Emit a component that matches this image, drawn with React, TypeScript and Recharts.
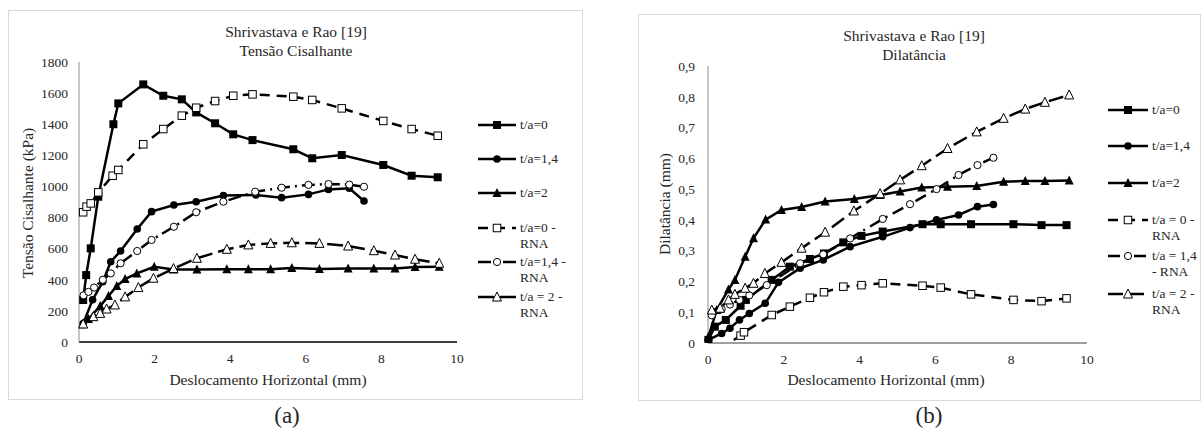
import React from 'react';
import { LineChart, Line, XAxis, YAxis } from 'recharts';

// ---------- Panel (a): Tensão Cisalhante (kPa) ----------
const aT0: number[][] = [
  [0.11, 270], [0.19, 430], [0.31, 602], [0.51, 934], [0.91, 1400], [1.04, 1534], [1.7, 1656],
  [2.23, 1583], [2.72, 1560], [3.1, 1476], [3.6, 1406], [4.08, 1335], [4.59, 1298],
  [5.67, 1239], [6.17, 1181], [6.95, 1202], [8.05, 1138], [8.8, 1069], [9.49, 1059],
];
const aT14: number[][] = [
  [0.11, 118], [0.36, 272], [0.63, 388], [0.84, 516], [1.1, 585], [1.54, 726], [1.92, 838],
  [2.51, 881], [3.1, 902], [3.82, 941], [4.68, 945], [5.36, 928], [6.07, 949], [6.6, 981],
  [7.15, 988], [7.54, 906],
];
const aT2: number[][] = [
  [0.11, 114], [0.25, 148], [0.56, 231], [0.78, 296], [1.0, 360], [1.22, 405], [1.53, 441],
  [1.99, 484], [2.5, 466], [3.12, 466], [3.91, 467], [4.48, 467], [5.07, 467], [5.63, 475],
  [6.36, 469], [7.12, 473], [7.8, 473], [8.36, 473], [8.89, 482], [9.53, 484],
];
const aT0R: number[][] = [
  [0.11, 834], [0.2, 870], [0.31, 891], [0.51, 962], [0.89, 1069], [1.04, 1106], [1.7, 1271],
  [2.23, 1369], [2.72, 1455], [3.1, 1506], [3.6, 1549], [4.08, 1583], [4.59, 1592],
  [5.67, 1577], [6.17, 1556], [6.95, 1502], [8.05, 1421], [8.8, 1369], [9.49, 1326],
];
const aT14R: number[][] = [
  [0.12, 300], [0.25, 322], [0.4, 350], [0.63, 400], [0.84, 441], [1.1, 506], [1.54, 585],
  [1.92, 656], [2.51, 741], [3.1, 834], [3.82, 902], [4.66, 966], [5.36, 992], [6.07, 1010],
  [6.6, 1015], [7.15, 1012], [7.54, 998],
];
const aT2R: number[][] = [
  [0.11, 116], [0.38, 163], [0.56, 184], [0.73, 212], [0.95, 238], [1.22, 290], [1.57, 350],
  [1.97, 410], [2.5, 472], [3.12, 538], [3.91, 596], [4.48, 624], [5.07, 634], [5.63, 638],
  [6.36, 634], [7.12, 617], [7.8, 587], [8.36, 559], [8.89, 532], [9.53, 506],
];
const aYTicks = [0, 200, 400, 600, 800, 1000, 1200, 1400, 1600, 1800];

// ---------- Panel (b): Dilatância (mm) ----------
const bT0: number[][] = [
  [0.01, 0.01], [0.18, 0.053], [0.47, 0.075], [0.86, 0.121], [1.0, 0.14], [1.68, 0.205],
  [2.16, 0.248], [2.69, 0.273], [3.06, 0.291], [3.57, 0.327], [4.05, 0.348], [4.61, 0.362],
  [5.66, 0.386], [6.14, 0.386], [6.94, 0.386], [8.06, 0.386], [8.8, 0.383], [9.46, 0.383],
];
const bT14: number[][] = [
  [0.01, 0.01], [0.36, 0.031], [0.58, 0.048], [0.83, 0.075], [1.09, 0.096], [1.51, 0.129],
  [1.86, 0.197], [2.43, 0.243], [3.04, 0.27], [3.75, 0.313], [4.61, 0.345], [5.33, 0.375],
  [6.03, 0.4], [6.61, 0.416], [7.11, 0.443], [7.53, 0.45],
];
const bT2: number[][] = [
  [0.01, 0.02], [0.23, 0.107], [0.54, 0.174], [0.71, 0.205], [0.98, 0.28], [1.2, 0.34],
  [1.52, 0.401], [1.94, 0.432], [2.47, 0.442], [3.09, 0.46], [3.86, 0.468], [4.54, 0.481],
  [5.07, 0.492], [5.64, 0.505], [6.32, 0.508], [7.09, 0.51], [7.8, 0.524], [8.37, 0.526],
  [8.89, 0.526], [9.53, 0.528],
];
const bT0R: number[][] = [
  [0.3, -0.02], [0.86, 0.024], [0.95, 0.035], [1.68, 0.091], [2.16, 0.118], [2.69, 0.147],
  [3.06, 0.165], [3.57, 0.183], [4.05, 0.188], [4.61, 0.194], [5.66, 0.186], [6.14, 0.18],
  [6.94, 0.158], [8.06, 0.14], [8.8, 0.136], [9.46, 0.145],
];
const bT14R: number[][] = [
  [0.1, 0.09], [0.36, 0.11], [0.58, 0.125], [0.83, 0.14], [1.09, 0.155], [1.55, 0.188],
  [2.43, 0.259], [3.04, 0.288], [3.75, 0.34], [4.61, 0.403], [5.33, 0.451], [6.03, 0.5],
  [6.61, 0.546], [7.11, 0.578], [7.53, 0.602],
];
const bT2R: number[][] = [
  [0.1, 0.107], [0.32, 0.113], [0.54, 0.14], [0.71, 0.158], [0.98, 0.178], [1.2, 0.194],
  [1.5, 0.226], [1.94, 0.262], [2.47, 0.308], [3.09, 0.36], [3.85, 0.429], [4.54, 0.485],
  [5.07, 0.53], [5.64, 0.576], [6.32, 0.632], [7.09, 0.686], [7.8, 0.73], [8.37, 0.76],
  [8.89, 0.782], [9.53, 0.806],
];
const bYTicks = [0, 0.1, 0.2, 0.3, 0.4, 0.5, 0.6, 0.7, 0.8, 0.9];
const xTicks = [0, 2, 4, 6, 8, 10];

const toObj = (arr: number[][]) => arr.map(([x, y]) => ({ x, y }));

const FONT = '"Liberation Serif"';
const TXT = '#262626';

type Shape = 'square' | 'circle' | 'triangle';

const Marker = ({ cx, cy, shape, filled }: { cx: number; cy: number; shape: Shape; filled: boolean }) => {
  const fill = filled ? '#000' : '#fff';
  const sw = filled ? 0 : 1;
  if (shape === 'square') {
    const s = filled ? 8 : 7.5;
    return <rect x={cx - s / 2} y={cy - s / 2} width={s} height={s} fill={fill} stroke="#000" strokeWidth={sw} />;
  }
  if (shape === 'circle') {
    return <circle cx={cx} cy={cy} r={filled ? 3.8 : 3.6} fill={fill} stroke="#000" strokeWidth={sw} />;
  }
  const h = 8;
  const w = 9;
  return (
    <polygon
      points={`${cx},${cy - h / 2 - 1} ${cx - w / 2},${cy + h / 2} ${cx + w / 2},${cy + h / 2}`}
      fill={fill}
      stroke="#000"
      strokeWidth={sw}
    />
  );
};

const makeDot = (shape: Shape, filled: boolean) => (props: any) => {
  const { cx, cy, index } = props;
  if (cx == null || cy == null || isNaN(cx) || isNaN(cy)) return <g key={`e${index}`} />;
  return (
    <g key={`d${index}`}>
      <Marker cx={cx} cy={cy} shape={shape} filled={filled} />
    </g>
  );
};

type SeriesDef = { name: string[]; data: number[][]; shape: Shape; filled: boolean; dash?: string };

const aSeries: SeriesDef[] = [
  { name: ['t/a=0'], data: aT0, shape: 'square', filled: true },
  { name: ['t/a=1,4'], data: aT14, shape: 'circle', filled: true },
  { name: ['t/a=2'], data: aT2, shape: 'triangle', filled: true },
  { name: ['t/a=0 -', 'RNA'], data: aT0R, shape: 'square', filled: false, dash: '10 7' },
  { name: ['t/a=1,4 -', 'RNA'], data: aT14R, shape: 'circle', filled: false, dash: '13 5 2 5' },
  { name: ['t/a = 2 -', 'RNA'], data: aT2R, shape: 'triangle', filled: false, dash: '16 6' },
];

const bSeries: SeriesDef[] = [
  { name: ['t/a=0'], data: bT0, shape: 'square', filled: true },
  { name: ['t/a=1,4'], data: bT14, shape: 'circle', filled: true },
  { name: ['t/a=2'], data: bT2, shape: 'triangle', filled: true },
  { name: ['t/a = 0 -', 'RNA'], data: bT0R, shape: 'square', filled: false, dash: '10 7' },
  { name: ['t/a = 1,4', '- RNA'], data: bT14R, shape: 'circle', filled: false, dash: '12 6 2 6' },
  { name: ['t/a = 2 -', 'RNA'], data: bT2R, shape: 'triangle', filled: false, dash: '15 6' },
];

const LegendBlock = ({
  series, left, lineLen, rowsY,
}: { series: SeriesDef[]; left: number; lineLen: number; rowsY: number[] }) => (
  <>
    {series.map((s, i) => (
      <div key={i} style={{ position: 'absolute', left, top: rowsY[i] - 8, display: 'flex', alignItems: 'flex-start' }}>
        <svg width={lineLen + 4} height={16} style={{ display: 'block' }}>
          <line x1={0} y1={8} x2={lineLen} y2={8} stroke="#000" strokeWidth={2.5} strokeDasharray={s.dash} />
          <Marker cx={lineLen / 2} cy={8} shape={s.shape} filled={s.filled} />
        </svg>
        <div style={{ fontFamily: FONT, fontSize: 13.5, lineHeight: '15.5px', color: TXT, marginTop: 0 }}>
          {s.name.map((n, k) => (
            <div key={k}>{n}</div>
          ))}
        </div>
      </div>
    ))}
  </>
);

const Abs = ({ left, top, children, style }: any) => (
  <div style={{ position: 'absolute', left, top, fontFamily: FONT, color: TXT, whiteSpace: 'nowrap', ...style }}>{children}</div>
);

const tickStyle = { fill: TXT, fontSize: 13.5, fontFamily: 'Liberation Serif' };

export default function App() {
  return (
    <div style={{ position: 'absolute', left: 0, top: 0, width: 1203, height: 433, background: '#fff', overflow: 'hidden', fontFamily: FONT }}>
      {/* Panel (a) box */}
      <div style={{ position: 'absolute', left: 8, top: 10, width: 575, height: 390, border: '1px solid #d9d9d9', boxSizing: 'border-box' }} />
      <div style={{ position: 'absolute', left: 8, top: 10 }}>
        <LineChart width={575} height={390} margin={{ top: 52, right: 126, bottom: 28, left: 26 }}>
          <XAxis
            type="number"
            dataKey="x"
            domain={[0, 10]}
            ticks={xTicks}
            tickLine={false}
            tickMargin={5}
            height={30}
            axisLine={{ stroke: '#000', strokeWidth: 1.5 }}
            tick={tickStyle}
            allowDuplicatedCategory={false}
          />
          <YAxis
            type="number"
            domain={[0, 1800]}
            ticks={aYTicks}
            tickLine={false}
            tickMargin={5}
            width={45}
            axisLine={{ stroke: '#8c8c8c', strokeWidth: 1 }}
            tick={tickStyle}
          />
          {aSeries.map((s, i) => (
            <Line
              key={i}
              data={toObj(s.data)}
              dataKey="y"
              type="linear"
              stroke="#000"
              strokeWidth={2.5}
              strokeDasharray={s.dash}
              dot={makeDot(s.shape, s.filled)}
              activeDot={false}
              isAnimationActive={false}
            />
          ))}
        </LineChart>
      </div>
      <Abs left={211} top={22} style={{ fontSize: 15.5, textAlign: 'center', width: 170, lineHeight: '19px' }}>
        <div>Shrivastava e Rao [19]</div>
        <div>Tensão Cisalhante</div>
      </Abs>
      <Abs left={28} top={203} style={{ fontSize: 15.5, transform: 'translate(-50%, -50%) rotate(-90deg)' }}>
        Tensão Cisalhante (kPa)
      </Abs>
      <Abs left={268} top={371} style={{ fontSize: 15.5, transform: 'translateX(-50%)' }}>
        Deslocamento Horizontal (mm)
      </Abs>
      <LegendBlock series={aSeries} left={478} lineLen={38} rowsY={[125, 159, 193, 228, 262, 297]} />
      <Abs left={287} top={403} style={{ fontSize: 23, transform: 'translateX(-50%)' }}>
        (a)
      </Abs>

      {/* Panel (b) box */}
      <div style={{ position: 'absolute', left: 638, top: 14, width: 563, height: 387, border: '1px solid #d9d9d9', boxSizing: 'border-box' }} />
      <div style={{ position: 'absolute', left: 638, top: 14 }}>
        <LineChart width={563} height={387} margin={{ top: 52, right: 114, bottom: 28, left: 25 }}>
          <XAxis
            type="number"
            dataKey="x"
            domain={[0, 10]}
            ticks={xTicks}
            tickLine={false}
            tickMargin={5}
            height={30}
            axisLine={{ stroke: '#7f7f7f', strokeWidth: 1.5 }}
            tick={tickStyle}
            allowDuplicatedCategory={false}
          />
          <YAxis
            type="number"
            domain={[0, 0.9]}
            ticks={bYTicks}
            allowDataOverflow
            tickLine={false}
            tickMargin={7}
            width={45}
            axisLine={{ stroke: '#8c8c8c', strokeWidth: 1 }}
            tick={tickStyle}
            tickFormatter={(v: number) => (v === 0 ? '0' : String(v).replace('.', ','))}
          />
          {bSeries.map((s, i) => (
            <Line
              key={i}
              data={toObj(s.data)}
              dataKey="y"
              type="linear"
              stroke="#000"
              strokeWidth={2.5}
              strokeDasharray={s.dash}
              dot={makeDot(s.shape, s.filled)}
              activeDot={false}
              isAnimationActive={false}
            />
          ))}
        </LineChart>
      </div>
      <Abs left={829} top={26} style={{ fontSize: 15.5, textAlign: 'center', width: 170, lineHeight: '19px' }}>
        <div>Shrivastava e Rao [19]</div>
        <div>Dilatância</div>
      </Abs>
      <Abs left={665} top={204} style={{ fontSize: 15.5, transform: 'translate(-50%, -50%) rotate(-90deg)' }}>
        Dilatância (mm)
      </Abs>
      <Abs left={886} top={371} style={{ fontSize: 15.5, transform: 'translateX(-50%)' }}>
        Deslocamento Horizontal (mm)
      </Abs>
      <LegendBlock series={bSeries} left={1108} lineLen={40} rowsY={[110, 146, 183, 220, 256, 294]} />
      <Abs left={929} top={403} style={{ fontSize: 23, transform: 'translateX(-50%)' }}>
        (b)
      </Abs>
    </div>
  );
}
